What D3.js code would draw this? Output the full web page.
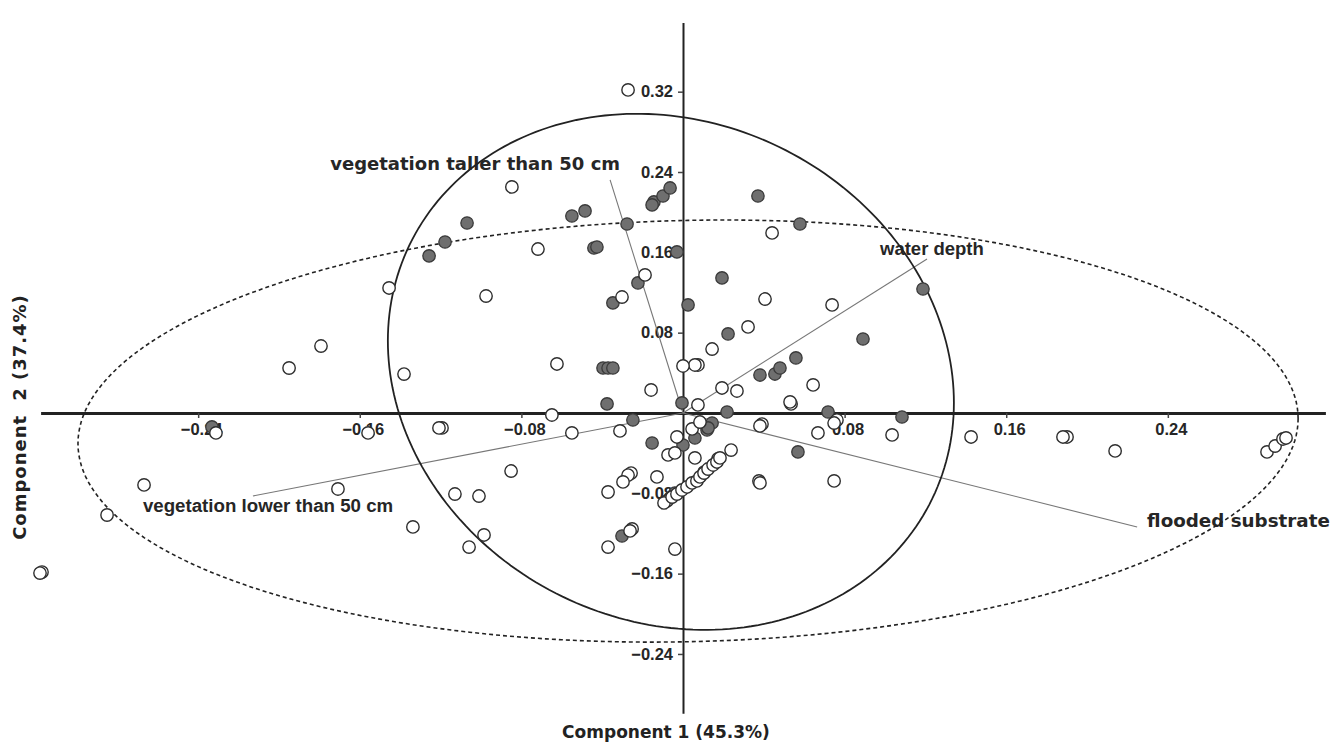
<!DOCTYPE html>
<html>
<head>
<meta charset="utf-8">
<script src="https://cdn.jsdelivr.net/npm/d3@7"></script>
<style>
  html, body { margin: 0; padding: 0; background: #fff; }
  svg { display: block; }
</style>
</head>
<body>
<svg id="chart"></svg>
<script>
const width = 1330;
const height = 742;

// component scores, group with filled (grey) symbols
const greyPoints = [
  [-0.2332, -0.0139], [-0.1257, 0.1564], [-0.1178, 0.1703], [-0.1069, 0.1892],
  [-0.0550, 0.1962], [-0.0485, 0.2012], [-0.0441, 0.1643], [-0.0426, 0.1653],
  [-0.0347, 0.1096], [-0.0277, 0.1882], [-0.0223, 0.1295], [-0.0144, 0.2102],
  [-0.0153, 0.2072], [-0.0099, 0.2161], [-0.0064, 0.2241], [0.0371, 0.2161],
  [0.0579, 0.1882], [-0.0030, 0.1604], [0.0193, 0.1345], [0.0025, 0.1076],
  [0.0223, 0.0787], [-0.0396, 0.0448], [-0.0371, 0.0448], [-0.0347, 0.0448],
  [-0.0376, 0.0090], [-0.0005, 0.0100], [0.0218, 0.0010], [0.0381, 0.0378],
  [0.0455, 0.0388], [0.0480, 0.0448], [0.0559, 0.0548], [-0.0248, -0.0070],
  [-0.0153, -0.0299], [0.0059, -0.0249], [0.0000, -0.0319], [0.0119, -0.0169],
  [0.0144, -0.0100], [0.0124, -0.0149], [-0.0040, -0.0797], [-0.0059, -0.0837],
  [0.0104, -0.0588], [-0.0302, -0.1225], [0.0569, -0.0388], [0.1188, 0.1235],
  [0.0891, 0.0737], [0.0718, 0.0010], [0.1084, -0.0040]
];

// component scores, group with open symbols
const openPoints = [
  [-0.0272, 0.3217], [-0.0847, 0.2251], [-0.0718, 0.1633], [-0.1455, 0.1245],
  [-0.0975, 0.1165], [-0.1792, 0.0667], [-0.1950, 0.0448], [-0.1381, 0.0388],
  [-0.0624, 0.0488], [0.0441, 0.1793], [-0.0188, 0.1375], [-0.0302, 0.1155],
  [0.0406, 0.1135], [0.0322, 0.0857], [0.0144, 0.0637], [0.0074, 0.0478],
  [0.0059, 0.0478], [0.0000, 0.0468], [-0.0158, 0.0229], [0.0193, 0.0249],
  [0.0267, 0.0219], [0.0644, 0.0279], [0.0535, 0.0090], [0.0530, 0.0110],
  [0.0074, 0.0080], [0.0738, 0.1076], [-0.0649, -0.0020], [-0.0550, -0.0199],
  [-0.0312, -0.0179], [-0.0030, -0.0239], [0.0045, -0.0159], [0.0084, -0.0090],
  [0.0391, -0.0110], [0.0381, -0.0129], [0.0668, -0.0199], [0.0762, -0.0070],
  [0.0748, -0.0100], [0.1035, -0.0219], [0.1426, -0.0239], [0.1901, -0.0239],
  [0.1881, -0.0239], [0.2139, -0.0378], [0.2891, -0.0388], [0.2931, -0.0329],
  [0.2970, -0.0259], [0.2985, -0.0249], [0.0238, -0.0369], [0.0376, -0.0677],
  [0.0381, -0.0697], [0.0748, -0.0677], [-0.2312, -0.0199], [-0.2668, -0.0717],
  [-0.2851, -0.1016], [-0.3173, -0.1584], [-0.3183, -0.1594], [-0.1559, -0.0199],
  [-0.1193, -0.0149], [-0.1208, -0.0149], [-0.1708, -0.0757], [-0.1337, -0.1135],
  [-0.0851, -0.0578], [-0.1129, -0.0807], [-0.1010, -0.0827], [-0.0985, -0.1215],
  [-0.1059, -0.1335], [-0.0074, -0.0418], [-0.0040, -0.0398], [0.0059, -0.0448],
  [0.0173, -0.0458], [-0.0257, -0.0598], [-0.0272, -0.0618], [-0.0297, -0.0687],
  [-0.0129, -0.0637], [-0.0371, -0.0787],
  [-0.0079, -0.0876], [-0.0094, -0.0896], [-0.0054, -0.0837], [-0.0030, -0.0807],
  [-0.0005, -0.0767], [0.0020, -0.0737], [0.0045, -0.0697], [0.0069, -0.0677],
  [0.0084, -0.0637], [0.0104, -0.0598], [0.0124, -0.0558], [0.0149, -0.0518],
  [0.0168, -0.0488], [0.0183, -0.0448],
  [-0.0252, -0.1155], [-0.0262, -0.1175], [-0.0371, -0.1335], [-0.0040, -0.1355]
];

// variable loadings (biplot vectors)
const vectorNames = ["vegetation taller than 50 cm", "water depth", "vegetation lower than 50 cm", "flooded substrate"];
const vectorX = [-0.0361, 0.1208, -0.2129, 0.2248];
const vectorY = [0.2321, 0.1534, -0.0827, -0.1135];

// 95% ellipses: centre, spread, correlation
const ellipseCx = [-0.006, 0.0025];
const ellipseCy = [0.041, -0.018];
const ellipseSx = [0.1401, 0.302];
const ellipseSy = [0.257, 0.2102];
const ellipseR = [-0.12, 0.059];

const xTicks = [-0.24, -0.16, -0.08, 0.08, 0.16, 0.24];
const yTicks = [-0.24, -0.16, -0.08, 0.08, 0.16, 0.24, 0.32];
const xTitle = "Component 1 (45.3%)";
const yTitleParts = ["Component", "2 (37.4%)"];

const x = d3.scaleLinear().domain([-0.318, 0.318]).range([40.6, 1325.4]);
const y = d3.scaleLinear().domain([-0.299, 0.389]).range([713.2, 22.4]);

const svg = d3.select("#chart").attr("width", width).attr("height", height);
svg.append("rect").attr("width", width).attr("height", height).attr("fill", "#fff");

const tickFont = "'Liberation Sans', Arial, sans-serif";
const wideFont = "'DejaVu Sans', Verdana, sans-serif";

// x axis through origin
const gx = svg.append("g").attr("transform", `translate(0,${y(0)})`)
  .call(d3.axisBottom(x).tickValues(xTicks).tickFormat(d3.format(".2f")).tickSize(5).tickPadding(5).tickSizeOuter(0));
gx.select(".domain").attr("stroke", "#222").attr("stroke-width", 3);
gx.selectAll(".tick line").attr("stroke", "#444").attr("stroke-width", 1.5);
gx.selectAll(".tick text").attr("font-family", tickFont).attr("font-weight", "bold")
  .attr("font-size", 16.5).attr("fill", "#262626").attr("dx", 3);

// y axis through origin
const gy = svg.append("g").attr("transform", `translate(${x(0)},0)`)
  .call(d3.axisLeft(y).tickValues(yTicks).tickFormat(d3.format(".2f")).tickSize(5).tickPadding(5).tickSizeOuter(0));
gy.select(".domain").attr("stroke", "#222").attr("stroke-width", 2);
gy.selectAll(".tick line").attr("stroke", "#444").attr("stroke-width", 1.5);
gy.selectAll(".tick text").attr("font-family", tickFont).attr("font-weight", "bold")
  .attr("font-size", 16.5).attr("fill", "#262626");

// axis titles
svg.append("text")
  .attr("x", 666).attr("y", 738)
  .attr("text-anchor", "middle")
  .attr("font-family", wideFont)
  .attr("font-weight", "bold").attr("font-size", 17).attr("fill", "#222")
  .text(xTitle);

const yt = svg.append("text")
  .attr("transform", `translate(26,417) rotate(-90)`)
  .attr("text-anchor", "middle")
  .attr("font-family", wideFont)
  .attr("font-weight", "bold").attr("font-size", 18).attr("fill", "#222")
  .attr("letter-spacing", 1);
yt.append("tspan").text(yTitleParts[0]);
yt.append("tspan").attr("dx", 14).text(yTitleParts[1]);

// biplot vectors
const vectors = vectorNames.map((n, i) => ({ name: n, x: vectorX[i], y: vectorY[i] }));
const labelStyle = [
  { anchor: "end", dx: 10, dy: -10, font: wideFont, size: 18 },
  { anchor: "start", dx: -47, dy: -4, font: tickFont, size: 18.5 },
  { anchor: "start", dx: -110, dy: 16, font: tickFont, size: 18.7 },
  { anchor: "start", dx: 10, dy: 0, font: wideFont, size: 18.3 }
];

svg.append("g").selectAll("text").data(vectors).join("text")
  .attr("x", (d, i) => x(d.x) + labelStyle[i].dx)
  .attr("y", (d, i) => y(d.y) + labelStyle[i].dy)
  .attr("text-anchor", (d, i) => labelStyle[i].anchor)
  .attr("font-family", (d, i) => labelStyle[i].font)
  .attr("font-size", (d, i) => labelStyle[i].size)
  .attr("font-weight", "bold")
  .attr("fill", "#262626")
  .text(d => d.name);

svg.append("g").selectAll("line").data(vectors).join("line")
  .attr("x1", x(0)).attr("y1", y(0))
  .attr("x2", d => x(d.x)).attr("y2", d => y(d.y))
  .attr("stroke", "#777").attr("stroke-width", 1.1);

// ellipses
const ellipseLine = d3.line().x(p => x(p[0])).y(p => y(p[1])).curve(d3.curveLinearClosed);
function ellipsePoints(i) {
  const pts = [];
  const k = Math.sqrt(1 - ellipseR[i] * ellipseR[i]);
  for (let s = 0; s < 240; s++) {
    const t = (s / 240) * 2 * Math.PI;
    pts.push([
      ellipseCx[i] + ellipseSx[i] * Math.cos(t),
      ellipseCy[i] + ellipseSy[i] * (ellipseR[i] * Math.cos(t) + k * Math.sin(t))
    ]);
  }
  return pts;
}

svg.append("path")
  .attr("d", ellipseLine(ellipsePoints(0)))
  .attr("fill", "none").attr("stroke", "#222").attr("stroke-width", 1.8);

svg.append("path")
  .attr("d", ellipseLine(ellipsePoints(1)))
  .attr("fill", "none").attr("stroke", "#222").attr("stroke-width", 1.6)
  .attr("stroke-dasharray", "4 3");

// points
svg.append("g").selectAll("circle").data(greyPoints).join("circle")
  .attr("cx", d => x(d[0])).attr("cy", d => y(d[1])).attr("r", 6.2)
  .attr("fill", "#6f6f6f").attr("stroke", "#3a3a3a").attr("stroke-width", 1.3);

svg.append("g").selectAll("circle").data(openPoints).join("circle")
  .attr("cx", d => x(d[0])).attr("cy", d => y(d[1])).attr("r", 6.2)
  .attr("fill", "#fff").attr("stroke", "#2e2e2e").attr("stroke-width", 1.4);
</script>
</body>
</html>
